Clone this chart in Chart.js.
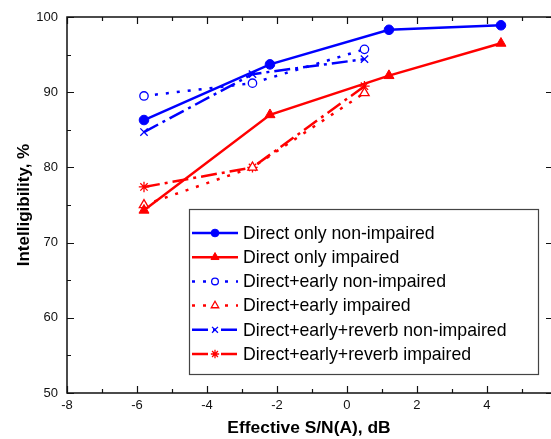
<!DOCTYPE html>
<html lang="en">
<head>
<meta charset="UTF-8">
<title>Intelligibility vs Effective S/N(A)</title>
<script src="https://cdn.jsdelivr.net/npm/chart.js"></script>
<style>
  html, body { margin: 0; padding: 0; background: #fff; }
  #wrap { width: 551px; height: 439px; }
</style>
</head>
<body>
<div id="wrap"><canvas id="chart" width="551" height="439"></canvas></div>
<script>
// Effective S/N(A), dB
const snrDirect = [-5.8, -2.2, 1.2, 4.4];
const snrEarly = [-5.8, -2.7, 0.5];

// Intelligibility, %
const directNonImpaired = [86.3, 93.7, 98.3, 98.9];
const directImpaired = [74.3, 87.0, 92.2, 96.5];
const earlyNonImpaired = [89.5, 91.2, 95.7];
const earlyImpaired = [75.0, 80.0, 89.9];
const reverbNonImpaired = [84.7, 92.4, 94.4];
const reverbImpaired = [77.4, 80.0, 90.8];

const seriesNames = [
    "Direct only non-impaired",
    "Direct only impaired",
    "Direct+early non-impaired",
    "Direct+early impaired",
    "Direct+early+reverb non-impaired",
    "Direct+early+reverb impaired"
];

// axis ticks (every value gets a tick mark, labelled ones are longer)
const xTicks = [-8, -7, -6, -5, -4, -3, -2, -1, 0, 1, 2, 3, 4, 5];
const xLabels = [-8, -6, -4, -2, 0, 2, 4];
const yTicks = [50, 55, 60, 65, 70, 75, 80, 85, 90, 95, 100];
const yLabels = [50, 60, 70, 80, 90, 100];

const FONT = "'Liberation Sans', Arial, Helvetica, sans-serif";
const BLUE = "#0000ff";
const RED = "#ff0000";
const DOTTED = [3, 8];
const DASHDOT = [16, 5, 3, 5];

const pts = (xs, ys) => xs.map((x, i) => ({ x: x, y: ys[i] }));

const makeSet = (label, xs, ys, color, style, filled, dash, radius) => ({
    label: label,
    data: pts(xs, ys),
    showLine: true,
    borderColor: color,
    backgroundColor: color,
    borderWidth: 2.5,
    borderDash: dash,
    pointStyle: style,
    pointRadius: radius,
    pointHoverRadius: radius,
    pointBorderWidth: filled ? 1 : 1.3,
    pointBorderColor: color,
    pointBackgroundColor: filled ? color : "#ffffff"
});

const datasets = [
    makeSet(seriesNames[0], snrDirect, directNonImpaired, BLUE, "circle", true, [], 4.8),
    makeSet(seriesNames[1], snrDirect, directImpaired, RED, "triangle", true, [], 5.8),
    makeSet(seriesNames[2], snrEarly, earlyNonImpaired, BLUE, "circle", false, DOTTED, 4.2),
    makeSet(seriesNames[3], snrEarly, earlyImpaired, RED, "triangle", false, DOTTED, 5.4),
    makeSet(seriesNames[4], snrEarly, reverbNonImpaired, BLUE, "crossRot", false, DASHDOT, 5.2),
    makeSet(seriesNames[5], snrEarly, reverbImpaired, RED, "star", false, DASHDOT, 5.2)
];

// box round the plot with inward tick marks
const framePlugin = {
    id: "frame",
    afterDatasetsDraw(chart) {
        const ctx = chart.ctx;
        const a = chart.chartArea;
        const xs = chart.scales.x, ys = chart.scales.y;
        ctx.save();
        ctx.strokeStyle = "#111";
        ctx.lineWidth = 1.5;
        ctx.setLineDash([]);
        ctx.beginPath();
        ctx.moveTo(a.right, a.top);
        ctx.lineTo(a.left, a.top);
        ctx.lineTo(a.left, a.bottom);
        ctx.lineTo(a.right, a.bottom);
        ctx.stroke();

        ctx.lineWidth = 1.2;
        ctx.beginPath();
        xTicks.forEach(v => {
            const px = Math.round(xs.getPixelForValue(v)) + 0.5;
            const len = xLabels.includes(v) ? 7 : 4;
            ctx.moveTo(px, a.bottom);
            ctx.lineTo(px, a.bottom - len);
            ctx.moveTo(px, a.top);
            ctx.lineTo(px, a.top + len);
        });
        yTicks.forEach(v => {
            const py = Math.round(ys.getPixelForValue(v)) + 0.5;
            const major = yLabels.includes(v);
            ctx.moveTo(a.left, py);
            ctx.lineTo(a.left + (major ? 7 : 4), py);
            if (major) {
                ctx.moveTo(a.right, py);
                ctx.lineTo(a.right - 5, py);
            }
        });
        ctx.stroke();
        ctx.restore();
    }
};

// boxed legend in the lower right of the plot
const legendPlugin = {
    id: "boxLegend",
    afterDraw(chart) {
        const ctx = chart.ctx;
        const a = chart.chartArea;
        const w = 349, h = 165;
        const bx = a.right - 13 - w;
        const by = a.bottom - 19 - h;
        ctx.save();
        ctx.fillStyle = "#fff";
        ctx.fillRect(bx, by, w, h);
        ctx.strokeStyle = "#444";
        ctx.lineWidth = 1.2;
        ctx.strokeRect(bx + 0.5, by + 0.5, w, h);

        ctx.font = "17.7px " + FONT;
        ctx.textBaseline = "middle";
        ctx.textAlign = "left";
        chart.data.datasets.forEach((ds, i) => {
            const cy = by + 24 + i * 24.2;
            const x0 = bx + 3, x1 = bx + 49;
            ctx.strokeStyle = ds.borderColor;
            ctx.lineWidth = ds.borderWidth;
            ctx.setLineDash(ds.borderDash);
            ctx.beginPath();
            ctx.moveTo(x0, cy);
            ctx.lineTo(x1, cy);
            ctx.stroke();
            ctx.setLineDash([]);
            ctx.fillStyle = ds.pointBackgroundColor;
            ctx.strokeStyle = ds.pointBorderColor;
            ctx.lineWidth = ds.pointBorderWidth;
            Chart.helpers.drawPoint(ctx, {
                pointStyle: ds.pointStyle,
                radius: ds.pointRadius * 0.8,
                borderWidth: ds.pointBorderWidth,
                rotation: 0
            }, (x0 + x1) / 2, cy);
            ctx.fillStyle = "#000";
            ctx.fillText(ds.label, bx + 54, cy + 1);
        });
        ctx.restore();
    }
};

new Chart(document.getElementById("chart"), {
    type: "scatter",
    data: { datasets: datasets },
    options: {
        responsive: false,
        animation: false,
        // no extra room for markers: the frame runs right up to the canvas edge
        layout: { autoPadding: false, padding: { top: 17, right: 0, bottom: 0, left: 0 } },
        plugins: {
            legend: { display: false },
            tooltip: { enabled: false }
        },
        scales: {
            x: {
                type: "linear",
                min: -8,
                max: 5.83,
                grid: { display: false, drawTicks: false },
                border: { display: false },
                ticks: {
                    stepSize: 1,
                    includeBounds: false,
                    autoSkip: false,
                    maxRotation: 0,
                    padding: 5,
                    color: "#111",
                    font: { family: FONT, size: 13 },
                    callback: (v) => xLabels.includes(v) ? String(v) : ""
                },
                title: {
                    display: true,
                    text: "Effective S/N(A), dB",
                    color: "#000",
                    font: { family: FONT, size: 17.4, weight: "bold" },
                    padding: { top: 0, bottom: 0 }
                },
                afterFit: (scale) => { scale.height = 46; }
            },
            y: {
                type: "linear",
                min: 50,
                max: 100,
                grid: { display: false, drawTicks: false },
                border: { display: false },
                ticks: {
                    stepSize: 10,
                    padding: 9,
                    color: "#111",
                    font: { family: FONT, size: 13 },
                    callback: (v) => yLabels.includes(v) ? String(v) : ""
                },
                title: {
                    display: true,
                    text: "Intelligibility, %",
                    color: "#000",
                    font: { family: FONT, size: 17, weight: "bold" },
                    padding: { top: 14, bottom: 0 }
                },
                afterFit: (scale) => { scale.width = 67; }
            }
        }
    },
    plugins: [framePlugin, legendPlugin]
});
</script>
</body>
</html>
